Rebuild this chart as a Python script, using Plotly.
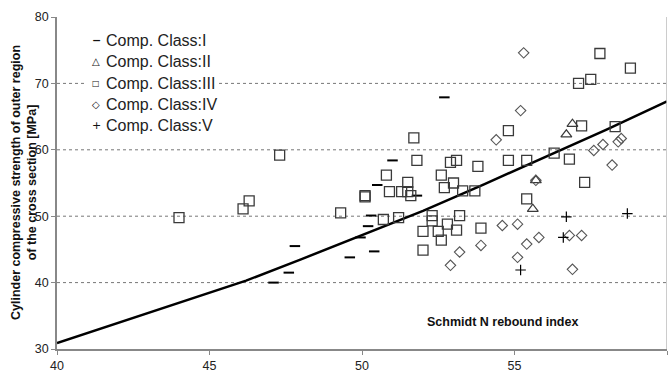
import plotly.graph_objects as go

# Compressive class I
class1_x = [52.7, 51.0, 50.5, 51.8, 50.3, 50.2, 49.95, 49.6, 50.4, 47.8, 47.6, 47.1]
class1_y = [67.9, 58.4, 54.7, 53.1, 50.1, 48.5, 46.8, 43.8, 44.7, 45.5, 41.5, 40.0]

# Compressive class II
class2_x = [56.9, 56.7, 55.7, 55.6]
class2_y = [63.9, 62.3, 55.4, 51.1]

# Compressive class III
class3_x = [57.8, 58.8, 57.1, 57.5, 57.2, 58.3, 54.8, 51.7, 47.3, 51.8, 52.9, 53.1,
            53.8, 54.8, 55.4, 56.3, 56.8, 50.8, 52.6, 51.5, 53.0, 52.7, 50.1, 50.1,
            50.9, 51.3, 51.5, 51.6, 53.3, 53.7, 57.3, 55.4, 49.3, 50.7, 51.2, 52.3,
            52.3, 53.2, 52.8, 52.5, 52.0, 53.1, 53.9, 52.6, 52.0, 46.3, 46.1, 44.0]
class3_y = [74.5, 72.3, 70.0, 70.6, 63.6, 63.5, 62.9, 61.8, 59.2, 58.4, 58.1, 58.4,
            57.5, 58.4, 58.4, 59.5, 58.6, 56.2, 56.2, 55.1, 55.0, 54.3, 53.1, 52.9,
            53.7, 53.7, 53.7, 53.1, 53.8, 53.8, 55.1, 52.6, 50.5, 49.5, 49.8, 50.1,
            49.3, 50.1, 48.8, 47.7, 47.7, 47.9, 48.2, 46.4, 44.9, 52.3, 51.1, 49.8]

# Compressive class IV
class4_x = [55.3, 55.2, 54.4, 57.9, 57.6, 58.4, 58.5, 58.2, 55.7, 54.6, 55.1, 55.8,
            55.4, 53.9, 53.2, 55.1, 52.9, 56.9, 56.8, 57.2]
class4_y = [74.6, 65.9, 61.5, 60.8, 59.9, 61.2, 61.7, 57.7, 55.4, 48.6, 48.8, 46.8,
            45.8, 45.6, 44.6, 43.8, 42.6, 42.0, 47.1, 47.1]

# Compressive class V
class5_x = [56.7, 58.7, 56.6, 55.2]
class5_y = [49.9, 50.4, 46.8, 41.9]

# Fitted relationship
fit_x = [40, 43.8, 45, 46.2, 48, 50, 52, 54, 56, 58, 60]
fit_y = [30.9, 36.6, 38.4, 40.3, 43.5, 47.1, 50.8, 54.8, 58.9, 63.0, 67.3]

x_ticks = [40, 45, 50, 55, 60]
y_ticks = [30, 40, 50, 60, 70, 80]
grid_levels = [40, 50, 60, 70]

legend_labels = ["Comp. Class:I", "Comp. Class:II", "Comp. Class:III",
                 "Comp. Class:IV", "Comp. Class:V"]
legend_glyphs = ["<b>−</b>", "△", "□", "◇", "+"]
glyph_sizes = [11, 10, 8, 10, 11]

FONT = "Arial, Liberation Sans, sans-serif"
MARK = "#3a3a3a"

fig = go.Figure()

fig.add_trace(go.Scatter(
    x=fit_x, y=fit_y, mode="lines", showlegend=False, hoverinfo="skip",
    line=dict(color="black", width=2.5)))

series = [
    (legend_labels[0], class1_x, class1_y,
     dict(symbol="line-ew", size=7.5, line=dict(color="black", width=2))),
    (legend_labels[1], class2_x, class2_y,
     dict(symbol="triangle-up-open", size=9.5, color=MARK, line=dict(color=MARK, width=1.2))),
    (legend_labels[2], class3_x, class3_y,
     dict(symbol="square-open", size=10, color=MARK, line=dict(color=MARK, width=1.3))),
    (legend_labels[3], class4_x, class4_y,
     dict(symbol="diamond-open", size=8, color="#555555", line=dict(color="#555555", width=1.1))),
    (legend_labels[4], class5_x, class5_y,
     dict(symbol="cross-thin-open", size=7.5, color="black", line=dict(color="black", width=1.2))),
]
for name, xs, ys, mk in series:
    fig.add_trace(go.Scatter(x=xs, y=ys, mode="markers", name=name, marker=mk,
                             showlegend=False))


def px_x(p):
    return (p - 57) / 610


def px_y(p):
    return 1 - (p - 17) / 336


# dotted horizontal grid lines
for g in grid_levels:
    fig.add_shape(type="line", xref="paper", yref="y", x0=0, x1=1, y0=g, y1=g,
                  line=dict(color="#777777", width=1, dash="dot"), layer="below")

# white panel behind the key
fig.add_shape(type="rect", xref="paper", yref="paper", x0=px_x(86), x1=px_x(219),
              y0=px_y(138), y1=px_y(30), fillcolor="white", line=dict(width=0),
              layer="below")

# key in the upper-left corner
row_top, row_step = 41, 21.5
for i, (glyph, label) in enumerate(zip(legend_glyphs, legend_labels)):
    ypos = px_y(row_top + i * row_step)
    fig.add_annotation(text=glyph, xref="paper", yref="paper", x=px_x(96), y=ypos,
                       xanchor="center", yanchor="middle", showarrow=False,
                       font=dict(family="DejaVu Sans, sans-serif", size=glyph_sizes[i],
                                 color="#111111"))
    fig.add_annotation(text=label, xref="paper", yref="paper", x=px_x(104), y=ypos,
                       xanchor="left", yanchor="middle", showarrow=False,
                       font=dict(family=FONT, size=16, color="#222222"))

# right border
fig.add_shape(type="line", xref="x", yref="paper", x0=60, x1=60, y0=0, y1=1,
              line=dict(color="#bbbbbb", width=1.5))

fig.add_annotation(
    text="<b>Cylinder compressive strength of outer region<br>of the cross section [MPa]</b>",
    xref="paper", yref="paper", x=px_x(24), y=px_y(185), textangle=-90, showarrow=False,
    font=dict(family=FONT, size=12.5, color="#111111"), xanchor="center", yanchor="middle")

fig.add_annotation(
    text="<b>Schmidt N rebound index</b>", xref="x", yref="y", x=54.6, y=34.0,
    showarrow=False, font=dict(family=FONT, size=12.5, color="#111111"))

fig.update_layout(
    width=672, height=378,
    margin=dict(l=57, r=5, t=17, b=25),
    paper_bgcolor="white", plot_bgcolor="white",
    font=dict(family=FONT, size=12.5, color="#222222"),
    showlegend=False,
    xaxis=dict(range=[40, 60], tickvals=x_ticks, showgrid=False, zeroline=False,
               showline=True, linecolor="#888888", linewidth=1.5,
               ticks="outside", ticklen=4, tickcolor="#888888"),
    yaxis=dict(range=[30, 80], tickvals=y_ticks, showgrid=False, zeroline=False,
               showline=True, linecolor="#888888", linewidth=1.5,
               ticks="outside", ticklen=4, tickcolor="#888888"),
)

fig.write_html("out.html")
